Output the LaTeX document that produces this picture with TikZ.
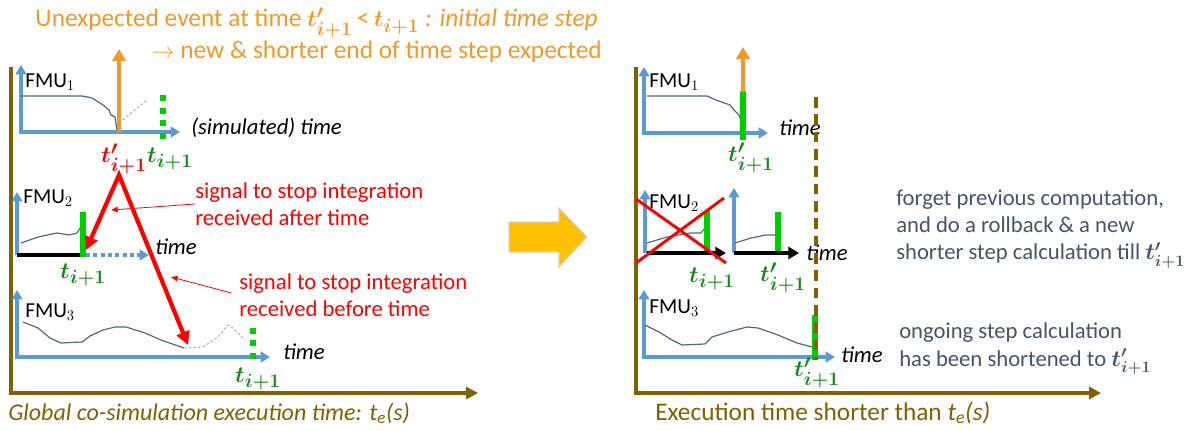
\documentclass[tikz,border=0pt]{standalone}
\usepackage{fontspec}
\setmainfont{Carlito}
\usepackage{amsmath}
\usepackage{bm}
\usetikzlibrary{arrows.meta}

\definecolor{evorange}{RGB}{243,152,40}
\definecolor{exbrown}{RGB}{128,96,0}
\definecolor{axblue}{RGB}{91,155,213}
\definecolor{sigline}{RGB}{84,100,135}
\definecolor{stepgreen}{RGB}{0,204,0}
\definecolor{labgreen}{RGB}{20,140,20}
\definecolor{notegray}{RGB}{68,84,106}
\definecolor{gogold}{RGB}{255,192,0}
\definecolor{sigred}{RGB}{255,0,0}

\newcommand{\tnew}{\bm{t'_{i+1}}}
\newcommand{\told}{\bm{t_{i+1}}}

\begin{document}
\begin{tikzpicture}[x=0.75pt, y=-0.75pt,
  font=\fontsize{17}{20}\selectfont,
  exaxis/.style={exbrown, line width=2.6pt, -{Triangle[length=9pt,width=9pt]}},
  fmuaxis/.style={axblue, line width=2.6pt, {Triangle[length=7pt,width=8pt]}-{Triangle[length=7pt,width=8pt]}},
  upaxis/.style={axblue, line width=2.6pt, {Triangle[length=7pt,width=8pt]}-},
  signal/.style={sigline, line width=0.9pt, line join=round},
  ghost/.style={gray!55, line width=0.9pt, dash pattern=on 2pt off 1.5pt},
  stepbar/.style={stepgreen, line width=4.5pt},
  stepdots/.style={stepgreen, line width=4.5pt, dash pattern=on 4.5pt off 5pt},
  fmulabel/.style={anchor=west, font=\fontsize{16}{19}\selectfont, inner sep=0pt},
  timelabel/.style={anchor=west, font=\fontsize{17}{20}\selectfont\itshape, inner sep=0pt},
  tlabel/.style={inner sep=0pt, font=\fontsize{19}{22}\selectfont},
  newlabel/.style={tlabel, text=labgreen},
  stopnote/.style={text=sigred, anchor=west, align=left, inner sep=0pt, font=\fontsize{17}{20}\selectfont},
  rednote/.style={sigred, line width=0.6pt, -{Triangle[length=5pt,width=4pt]}},
  bigred/.style={sigred, line width=3.2pt, {Triangle[length=10pt,width=10pt]}-{Triangle[length=10pt,width=10pt]}},
  eventup/.style={evorange, line width=2.8pt, -{Triangle[length=9pt,width=10pt]}},
  sidenote/.style={text=notegray, anchor=west, align=left, inner sep=0pt, font=\fontsize{17}{20.5}\selectfont},
  blackaxis/.style={line width=2.8pt, -{Triangle[length=8pt,width=9pt]}},
  exlabel/.style={anchor=base west, text=exbrown, inner sep=0pt, font=\fontsize{19}{22}\selectfont},
  eventtext/.style={anchor=base east, text=evorange, inner sep=0pt, font=\fontsize{19}{23}\selectfont}]
  \useasboundingbox (0,0) rectangle (1188,431);

  \node[eventtext] (event1) at (598,27) {Unexpected event at time $\tnew$\,<\,$\told$\textit{ : initial time step}};
  \node[eventtext] (event2) at (602,59) {$\rightarrow$ new \& shorter end of time step expected};

  \draw[exaxis] (11,67) -- (11,393) -- (478,393);
  \node[exlabel, font=\fontsize{18}{22}\selectfont\itshape] (gexec) at (8,420) {Global co-simulation execution time: t\textsubscript{e}(s)};

  \draw[fmuaxis] (21,65) -- (21,132) -- (180,132);
  \node[fmulabel] (fmu1) at (25,82) {FMU$_1$};
  \draw[signal] (21,96) -- (82,96) -- (92,98) -- (103,105) -- (109,110) -- (111,115) -- (115,117) -- (117,130);
  \draw[ghost] (119,123) -- (147,100);
  \draw[stepdots] (163,139) -- (163,92);
  \draw[eventup] (119,132) -- (119,49);
  \node[timelabel] (simtime) at (191,128) {(simulated) time};
  \node[tlabel, text=sigred] (tnewA) at (124,159) {$\tnew$};
  \node[newlabel] (toldA) at (170,159) {$\told$};

  \draw[upaxis] (17,192) -- (17,255);
  \node[fmulabel] (fmu2) at (23,198) {FMU$_2$};
  \draw[signal] (21,243) -- (38,237) -- (57,233) -- (69,235) -- (77,233) -- (80,228);
  \draw[line width=3.2pt] (17,255) -- (82,255);
  \draw[stepbar] (83,212) -- (83,257);
  \draw[axblue, line width=2.6pt, dash pattern=on 3pt off 2.5pt, -{Triangle[length=7pt,width=8pt]}] (86,255) -- (149,255);
  \node[timelabel] (timeB) at (155,247) {time};
  \node[newlabel] (toldB) at (83,275) {$\told$};

  \coordinate (stop) at (119,175);
  \draw[bigred] (86,250) -- (stop) -- (188,345);
  \node[stopnote] (afternote) at (195,204) {signal to stop integration\\received after time};
  \coordinate (afterhit) at (111,210);
  \draw[rednote] (afternote.west) -- (afterhit);
  \node[stopnote] (beforenote) at (239,295) {signal to stop integration\\received before time};
  \coordinate (beforehit) at (171,277);
  \draw[rednote, shorten <=6pt] (beforenote.west) -- (beforehit);

  \draw[fmuaxis] (17,290) -- (17,357) -- (270,357);
  \node[fmulabel] (fmu3) at (25,312) {FMU$_3$};
  \draw[signal] (23,322) -- (38,328) -- (50,338) -- (61,343) -- (82,342) -- (90,336) -- (103,330) -- (115,327) -- (126,327) -- (145,333) -- (161,340) -- (184,348);
  \draw[ghost] (184,348) -- (203,347) -- (218,337) -- (228,325) -- (233,328) -- (245,340);
  \draw[stepdots] (253,359) -- (253,322);
  \node[timelabel] (timeC) at (283,352) {time};
  \node[newlabel] (toldC) at (258,379) {$\told$};

  \filldraw[fill=gogold, draw=gray!35, line width=1pt] (509,222) -- (559,222) -- (559,208) -- (587,237) -- (559,267) -- (559,252) -- (509,252) -- cycle;

  \draw[exaxis] (636,67) -- (636,393) -- (1101,393);
  \node[exlabel] (shortexec) at (655,420) {Execution time shorter than \textit{t\textsubscript{e}(s)}};

  \draw[fmuaxis] (644,67) -- (644,133) -- (768,133);
  \node[fmulabel] (fmu1r) at (649,82) {FMU$_1$};
  \draw[signal] (647,96) -- (707,96) -- (716,100) -- (730,105) -- (734,110) -- (739,115) -- (743,127);
  \draw[stepbar] (743,91) -- (743,140);
  \draw[eventup] (743,92) -- (743,47);
  \node[timelabel] (timeD) at (779,128) {time};
  \node[newlabel] (tnewD) at (751,158) {$\tnew$};

  \draw[upaxis] (645,190) -- (645,253);
  \node[fmulabel] (fmu2r) at (649,203) {FMU$_2$};
  \draw[signal] (647,243) -- (667,237) -- (690,233) -- (701,233) -- (704,229);
  \draw[stepbar] (707,211) -- (707,253);
  \draw[blackaxis] (647,253) -- (726,253);
  \draw[sigred, line width=2.2pt] (636,199) -- (726,263) (636,263) -- (724,198);
  \node[newlabel] (toldE) at (712,279) {$\told$};

  \draw[upaxis] (734,188) -- (734,253);
  \draw[signal] (735,243) -- (751,238) -- (766,235) -- (778,235);
  \draw[stepbar] (778,212) -- (778,253);
  \draw[blackaxis] (734,253) -- (799,253);
  \node[timelabel] (timeE) at (806,253) {time};
  \node[newlabel] (tnewE) at (783,278) {$\tnew$};
  \node[sidenote] (rollback) at (896,229) {forget previous computation,\\and do a rollback \& a new\\shorter step calculation till $\tnew$};

  \draw[fmuaxis] (644,290) -- (644,357) -- (835,357);
  \node[fmulabel] (fmu3r) at (649,308) {FMU$_3$};
  \draw[signal] (645,325) -- (659,332) -- (672,340) -- (682,345) -- (705,344) -- (712,337) -- (728,332) -- (747,327) -- (758,328) -- (778,335) -- (797,343) -- (812,347);
  \draw[stepbar] (815,315) -- (815,360);
  \draw[exbrown, line width=2.6pt, dash pattern=on 8pt off 5pt] (816,97) -- (816,360);
  \node[timelabel] (timeF) at (841,355) {time};
  \node[newlabel] (tnewF) at (817,373) {$\tnew$};
  \node[sidenote] (shortened) at (899,349) {ongoing step calculation\\has been shortened to $\tnew$};
\end{tikzpicture}
\end{document}
